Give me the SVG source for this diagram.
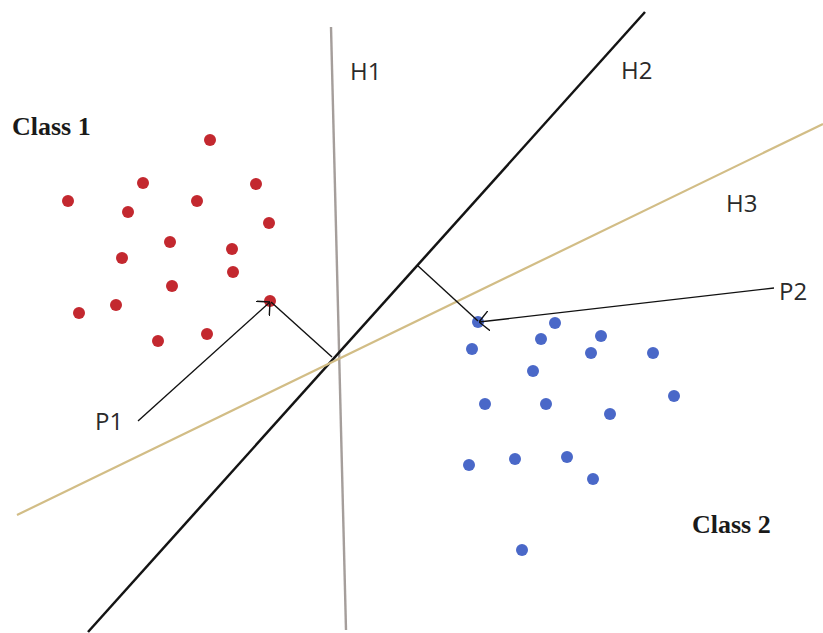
<svg xmlns="http://www.w3.org/2000/svg" width="823" height="633" viewBox="0 0 823 633">
  <style>
    .lbl { font-family: "Open Sans", "Liberation Sans", sans-serif; font-size: 24px; fill: #2a2a2a; }
    .cls { font-family: "Liberation Serif", serif; font-size: 26px; font-weight: bold; fill: #1a1a1a; }
    .red { fill: #c3282f; }
    .blue { fill: #4a68c8; }
    .thin { stroke: #111; stroke-width: 1.4; fill: none; }
  </style>
  <defs>
    <marker id="arrow" viewBox="0 0 10 20" refX="10" refY="10" markerWidth="10" markerHeight="20" markerUnits="userSpaceOnUse" orient="auto">
      <path d="M0,0 L10,10 L0,20" fill="none" stroke="#111" stroke-width="1.4"/>
    </marker>
  </defs>
  <rect width="823" height="633" fill="#ffffff"/>

  <!-- separating lines -->
  <g id="hyperplanes">
    <line id="h1" x1="331" y1="27" x2="346" y2="630" stroke="#a59e9b" stroke-width="2.4"/>
    <line id="h2" x1="88" y1="632" x2="645" y2="12" stroke="#141414" stroke-width="2.5"/>
    <line id="h3" x1="17" y1="515" x2="823" y2="124" stroke="#d2bd86" stroke-width="2.2"/>
  </g>

  <!-- class 1 points -->
  <g id="class1">
    <circle class="red" cx="210" cy="140" r="6"/>
    <circle class="red" cx="143" cy="183" r="6"/>
    <circle class="red" cx="256" cy="184" r="6"/>
    <circle class="red" cx="68" cy="201" r="6"/>
    <circle class="red" cx="197" cy="201" r="6"/>
    <circle class="red" cx="128" cy="212" r="6"/>
    <circle class="red" cx="269" cy="223" r="6"/>
    <circle class="red" cx="170" cy="242" r="6"/>
    <circle class="red" cx="232" cy="249" r="6"/>
    <circle class="red" cx="122" cy="258" r="6"/>
    <circle class="red" cx="233" cy="272" r="6"/>
    <circle class="red" cx="172" cy="286" r="6"/>
    <circle class="red" cx="116" cy="305" r="6"/>
    <circle class="red" cx="270" cy="301" r="6"/>
    <circle class="red" cx="79" cy="313" r="6"/>
    <circle class="red" cx="207" cy="334" r="6"/>
    <circle class="red" cx="158" cy="341" r="6"/>
  </g>

  <!-- class 2 points -->
  <g id="class2">
    <circle class="blue" cx="478" cy="322" r="6"/>
    <circle class="blue" cx="555" cy="323" r="6"/>
    <circle class="blue" cx="541" cy="339" r="6"/>
    <circle class="blue" cx="601" cy="336" r="6"/>
    <circle class="blue" cx="472" cy="349" r="6"/>
    <circle class="blue" cx="591" cy="353" r="6"/>
    <circle class="blue" cx="653" cy="353" r="6"/>
    <circle class="blue" cx="533" cy="371" r="6"/>
    <circle class="blue" cx="674" cy="396" r="6"/>
    <circle class="blue" cx="485" cy="404" r="6"/>
    <circle class="blue" cx="546" cy="404" r="6"/>
    <circle class="blue" cx="610" cy="414" r="6"/>
    <circle class="blue" cx="469" cy="465" r="6"/>
    <circle class="blue" cx="515" cy="459" r="6"/>
    <circle class="blue" cx="567" cy="457" r="6"/>
    <circle class="blue" cx="593" cy="479" r="6"/>
    <circle class="blue" cx="522" cy="550" r="6"/>
  </g>

  <!-- margins and pointers -->
  <g id="connectors">
    <line class="thin" x1="332" y1="357" x2="271" y2="302"/>
    <line class="thin" x1="417" y1="265" x2="478" y2="321"/>
    <line class="thin" x1="138" y1="421" x2="270" y2="302" marker-end="url(#arrow)"/>
    <line class="thin" x1="774" y1="288" x2="479" y2="322" marker-end="url(#arrow)"/>
  </g>

  <!-- labels -->
  <g id="labels">
    <text class="lbl" x="350" y="80">H1</text>
    <text class="lbl" x="621" y="79">H2</text>
    <text class="lbl" x="726" y="212">H3</text>
    <text class="lbl" x="95" y="430">P1</text>
    <text class="lbl" x="779" y="300">P2</text>
    <text class="cls" x="12" y="135">Class 1</text>
    <text class="cls" x="692" y="533">Class 2</text>
  </g>
</svg>
